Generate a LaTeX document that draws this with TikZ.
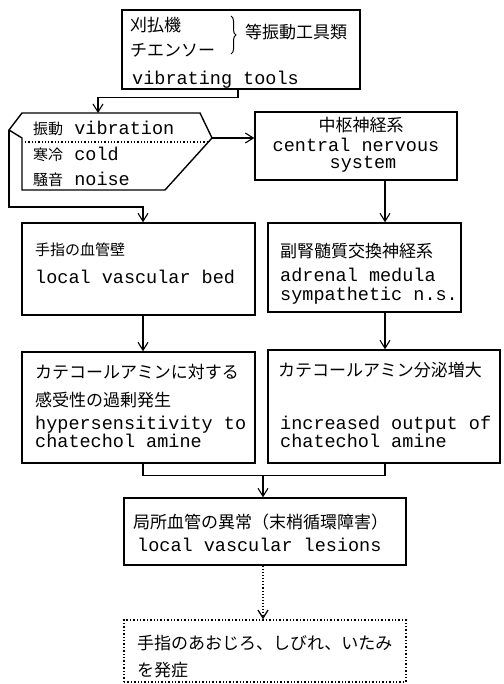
\documentclass[tikz,border=0pt]{standalone}
\usepackage{fontspec}
\setmonofont{Liberation Mono}
\newfontfamily\jpfont{Noto Sans CJK JP}
\newcommand\entt{\ttfamily\fontsize{18.5}{18}\selectfont}
\usetikzlibrary{arrows.meta,decorations.pathreplacing}

\begin{document}
\begin{tikzpicture}[x=1pt,y=-1pt]

%
% Styles
%
\tikzstyle{block} = [rectangle,draw,line width=1.4pt,inner sep=0pt]
\tikzstyle{dotblock} = [block,dotted]
\tikzstyle{jp} = [anchor=west,inner sep=0pt,font=\jpfont\fontsize{17}{20}\selectfont]
\tikzstyle{jps} = [jp,font=\jpfont\fontsize{15}{17}\selectfont]
\tikzstyle{en} = [anchor=west,inner sep=0pt,font=\entt]
\tikzstyle{link} = [line width=1.1pt,-{Straight Barb[length=8pt,width=10pt]}]

\useasboundingbox (0,0) rectangle (503,684);

\coordinate (lcol)  at (143,0);
\coordinate (rcol)  at (385,0);
\coordinate (merge) at (263,475);

% boxes
\node[block,minimum width=238,minimum height=79]  (tools)   at (241,49.5)  {};
\node[block,minimum width=202,minimum height=68]  (cns)     at (356,146)   {};
\node[block,minimum width=233,minimum height=92]  (bed)     at (138.5,269) {};
\node[block,minimum width=193,minimum height=89]  (adrenal) at (364.5,267.5) {};
\node[block,minimum width=233,minimum height=111] (hyper)   at (138.5,407.5) {};
\node[block,minimum width=232,minimum height=113] (output)  at (384,406.5) {};
\node[block,minimum width=282,minimum height=67]  (lesion)  at (265,531.5) {};
\node[dotblock,minimum width=282,minimum height=62] (symptom) at (265,651) {};

% factor hexagon
\coordinate (hexT) at (98,113);
\coordinate (hexR) at (212,138);
\coordinate (hexL) at (9,130);
\draw[line width=1.4pt] (22,113) -- (200,113) -- (hexR) -- (165,190) -- (22,190) -- (22,138) -- (hexL) -- cycle;
\draw[dotted,line width=1.3pt] (25,142) -- (207,142);

% texts
\node[jp] (kari)   at (130,25) {刈払機};
\node[jp] (chain)  at (130,50) {チエンソー};
\draw[decorate,decoration={brace,amplitude=5pt},line width=1pt] (231,16) -- (231,54);
\node[jp] (tooljp) at (245,32) {等振動工具類};
\node[en] (tooler) at (132,80) {vibrating tools};

\node[jps] (vib)   at (33,128) {振動\entt{} vibration};
\node[jps] (cold)  at (33,154) {寒冷\entt{} cold};
\node[jps] (noise) at (33,179) {騒音\entt{} noise};

\node[jp,anchor=center] (cnsjp) at (361,125) {中枢神経系};
\node[en,anchor=north,align=center] (cnsen) at (356,138) {central nervous\\[-1pt]\hspace*{14pt}system};

\node[jps] (bedjp) at (35,250) {手指の血管壁};
\node[en]  (beden) at (35,277) {local vascular bed};

\node[jp] (adrjp) at (280,251) {副腎髄質交換神経系};
\node[en,anchor=north west,align=left] (adren) at (280,268) {adrenal medula\\[1pt]sympathetic n.s.};

\node[jp] (hypjp)  at (35,372) {カテコールアミンに対する};
\node[jp] (hypjp2) at (35,400) {感受性の過剰発生};
\node[en,anchor=north west,align=left] (hypen) at (35,416) {hypersensitivity to\\chatechol amine};

\node[jp] (outjp)  at (278,370) {カテコールアミン分泌増大};
\node[en,anchor=north west,align=left] (outen) at (280,416) {increased output of\\chatechol amine};

\node[jp] (lesjp) at (133,522) {局所血管の異常（末梢循環障害）};
\node[en] (lesen) at (137,545) {local vascular lesions};

\node[jp] (symjp)  at (137,643) {手指のあおじろ、しびれ、いたみ};
\node[jp] (symjp2) at (137,670) {を発症};

% connectors
\draw[link] ([xshift=-3pt]tools.south) -- ++(0,8) -| (hexT);
\draw[link] (hexR) -- (hexR -| cns.west);
\draw[link] (hexL) -- ++(0,77) -| (bed.north -| lcol);
\draw[link] (cns.south -| rcol) -- (adrenal.north -| rcol);
\draw[link] (bed.south -| lcol) -- (hyper.north -| lcol);
\draw[link] (adrenal.south -| rcol) -- (output.north -| rcol);
\draw[line width=1.1pt] (hyper.south -| lcol) -- ++(0,12) -| (output.south -| rcol);
\draw[link] (merge) -- (lesion.north -| merge);
\draw[link,dotted,line width=1.3pt] (lesion.south -| merge) -- (symptom.north -| merge);

\end{tikzpicture}
\end{document}
